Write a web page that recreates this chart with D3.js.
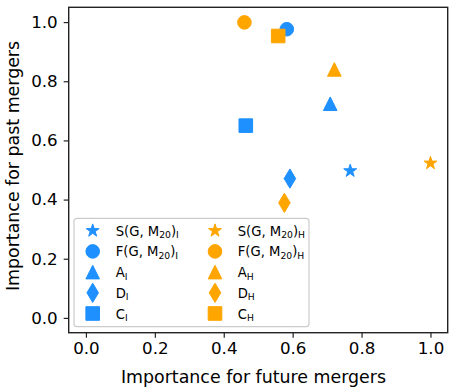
<!DOCTYPE html>
<html lang="en">
  <head>
    <meta charset="utf-8">
    <title>Merger importance</title>
    <script src="https://d3js.org/d3.v7.min.js"></script>
    <style>
      body { margin: 0; background: white; }
      svg { display: block; }
      text { font-family: "DejaVu Sans", sans-serif; fill: #000; }
    </style>
  </head>
  <body>
    <svg width="457" height="392"></svg>
    <script>
      // statistic names, subscript I = imaging, H = ...
      var stats = ["S", "F", "A", "D", "C"];
      var futureI = [0.767, 0.583, 0.709, 0.592, 0.464];
      var pastI = [0.497, 0.976, 0.724, 0.471, 0.650];
      var futureH = [1.0, 0.460, 0.721, 0.576, 0.558];
      var pastH = [0.523, 0.999, 0.840, 0.389, 0.953];
      var xTicks = [0.0, 0.2, 0.4, 0.6, 0.8, 1.0];
      var yTicks = [0.0, 0.2, 0.4, 0.6, 0.8, 1.0];
      var colors = {I: "#1e90ff", H: "#ffa500"};

      function draw() {
        var svg = d3.select("svg");
        var mLeft = 68.7, mRight = 447.7, mTop = 7.3, mBottom = 332.7;
        var x = d3.scaleLinear().domain([-0.05, 1.05]).range([mLeft, mRight]);
        var y = d3.scaleLinear().domain([-0.05, 1.05]).range([mBottom, mTop]);
        var fs = 16.7;

        // marker paths, ms = marker size in px
        var ms = 13.6;
        function shape(s) {
          var h = ms / 2;
          if (s == "F") {
            return d3.symbol().type(d3.symbolCircle).size(Math.PI * h * h)();
          }
          if (s == "C") {
            return "M" + -h + "," + -h + "H" + h + "V" + h + "H" + -h + "Z";
          }
          if (s == "A") {
            return "M0," + -h + "L" + h + "," + h + "L" + -h + "," + h + "Z";
          }
          if (s == "D") {
            var dy = ms * 0.707, dx = ms * 0.424;
            return "M0," + -dy + "L" + dx + ",0L0," + dy + "L" + -dx + ",0Z";
          }
          // 5 point star
          var p = [];
          for (var i = 0; i < 10; i++) {
            var r = i % 2 == 0 ? h : h * 0.381966;
            var a = i * Math.PI / 5;
            p.push([r * Math.sin(a), -r * Math.cos(a)]);
          }
          return "M" + p.join("L") + "Z";
        }

        // ticks
        var xa = svg.append("g").attr("transform", "translate(0," + mBottom + ")")
          .call(d3.axisBottom(x).tickValues(xTicks).tickSize(5).tickPadding(4)
          .tickFormat(d3.format(".1f")));
        var ya = svg.append("g").attr("transform", "translate(" + mLeft + ",0)")
          .call(d3.axisLeft(y).tickValues(yTicks).tickSize(5).tickPadding(6)
          .tickFormat(d3.format(".1f")));
        [xa, ya].forEach(function(g) {
          g.select(".domain").remove();
          g.selectAll("line").attr("stroke", "#222").attr("stroke-width", 1.2);
          g.selectAll("text").attr("font-size", fs).attr("font-family", "DejaVu Sans");
        });

        // spines
        svg.append("rect").attr("x", mLeft).attr("y", mTop)
          .attr("width", mRight - mLeft).attr("height", mBottom - mTop)
          .attr("fill", "none").attr("stroke", "#222").attr("stroke-width", 1.4);

        // points: all I series first, then H
        var pts = [];
        stats.forEach(function(s, i) {
          pts.push({s: s, k: "I", fx: futureI[i], py: pastI[i]});
        });
        stats.forEach(function(s, i) {
          pts.push({s: s, k: "H", fx: futureH[i], py: pastH[i]});
        });
        svg.append("g").selectAll("path").data(pts).enter().append("path")
          .attr("d", function(d) { return shape(d.s); })
          .attr("transform", function(d) {
            return "translate(" + x(d.fx) + "," + y(d.py) + ")";
          })
          .attr("fill", function(d) { return colors[d.k]; })
          .attr("stroke", function(d) { return colors[d.k]; })
          .attr("stroke-width", 1);

        // legend
        var lg = svg.append("g");
        lg.append("rect").attr("x", 74).attr("y", 218.3).attr("width", 235)
          .attr("height", 108.4).attr("rx", 3).attr("fill", "white")
          .attr("fill-opacity", 0.8).attr("stroke", "#ccc").attr("stroke-width", 1.2);
        var lfs = 13.2;
        ["I", "H"].forEach(function(k, c) {
          var mx = c == 0 ? 92.7 : 215, tx = c == 0 ? 115.7 : 237.7;
          stats.forEach(function(s, i) {
            var cy = 230.7 + i * 20.7;
            lg.append("path").attr("d", shape(s))
              .attr("transform", "translate(" + mx + "," + cy + ")")
              .attr("fill", colors[k]).attr("stroke", colors[k]).attr("stroke-width", 1);
            var t = lg.append("text").attr("x", tx).attr("y", cy + 5)
              .attr("font-size", lfs);
            if (s == "S" || s == "F") {
              t.append("tspan").text(s + "(G, M");
              t.append("tspan").attr("font-size", lfs * 0.7).attr("dy", 2.5).text("20");
              t.append("tspan").attr("dy", -2.5).text(")");
            } else {
              t.append("tspan").text(s);
            }
            t.append("tspan").attr("font-size", lfs * 0.7).attr("dy", 2.5).text(k);
          });
        });

        // axis labels
        svg.append("text").attr("x", 253.5).attr("y", 383).attr("text-anchor", "middle")
          .attr("font-size", 17.4).text("Importance for future mergers");
        svg.append("text").attr("transform", "translate(18.5,166) rotate(-90)")
          .attr("text-anchor", "middle").attr("font-size", 17.4)
          .text("Importance for past mergers");
      }
      draw();
    </script>
  </body>
</html>
